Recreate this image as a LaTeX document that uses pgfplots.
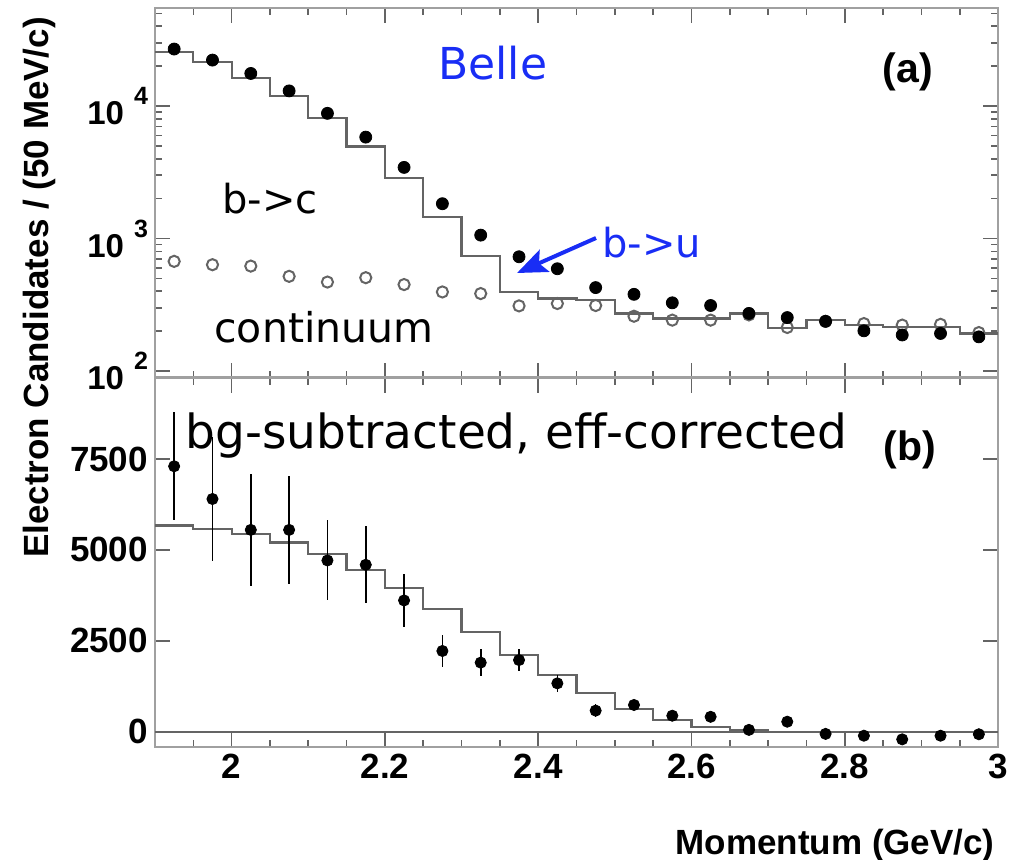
\documentclass[border=0pt]{standalone}
\usepackage{pgfplots}
\pgfplotsset{compat=1.18}
\usepackage{fontspec}
\setmainfont{Liberation Sans}
\newfontfamily\handfont{DejaVu Sans}
\usetikzlibrary{arrows.meta}

\definecolor{annblue}{RGB}{25,45,245}
\definecolor{framegray}{RGB}{160,160,160}
\definecolor{histgray}{RGB}{100,100,100}

\newcommand{\ticklab}{\fontsize{17.5}{18}\selectfont\bfseries}
\newcommand{\decade}[1]{{\fontsize{16.5}{17}\selectfont\bfseries 10}\hspace{5pt}\raisebox{10pt}{\fontsize{12.5}{12}\selectfont\bfseries #1}}

% electron momentum spectrum, 50 MeV/c bins
\pgfplotstableread{
x      y
1.90   25600
1.95   21500
2.00   16300
2.05   11900
2.10   8070
2.15   4940
2.20   2860
2.25   1446
2.30   736
2.35   395
2.40   352
2.45   342
2.50   272
2.55   249
2.60   249
2.65   272
2.70   210
2.75   242
2.80   222
2.85   215
2.90   215
2.95   192
3.00   192
}\bcmodel

\pgfplotstableread{
x      y
1.925  26900
1.975  22200
2.025  17600
2.075  13000
2.125  8800
2.175  5820
2.225  3440
2.275  1830
2.325  1060
2.375  728
2.425  591
2.475  426
2.525  379
2.575  327
2.625  312
2.675  272
2.725  253
2.775  237
2.825  201
2.875  187
2.925  192
2.975  181
}\onres

\pgfplotstableread{
x      y
1.925  672
1.975  634
2.025  619
2.075  518
2.125  469
2.175  506
2.225  449
2.275  395
2.325  384
2.375  310
2.425  323
2.475  312
2.525  259
2.575  242
2.625  242
2.675  265
2.725  213
2.775  237
2.825  228
2.875  222
2.925  225
2.975  195
}\continuum

\pgfplotstableread{
x      y
1.90   5671
1.95   5572
2.00   5443
2.05   5204
2.10   4892
2.15   4452
2.20   3948
2.25   3378
2.30   2736
2.35   2112
2.40   1561
2.45   1057
2.50   616
2.55   322
2.60   138
2.65   47
2.70   0
2.75   0
2.80   0
2.85   0
2.90   0
2.95   0
3.00   0
}\bumodel

\pgfplotstableread{
x      y      e
1.925  7300   1480
1.975  6400   1700
2.025  5550   1540
2.075  5550   1480
2.125  4710   1100
2.175  4590   1060
2.225  3610   740
2.275  2220   450
2.325  1900   370
2.375  1970   310
2.425  1330   230
2.475  580    170
2.525  735    150
2.575  440    120
2.625  410    130
2.675  50     100
2.725  275    110
2.775  -60    80
2.825  -110   70
2.875  -210   60
2.925  -110   60
2.975  -70    60
}\subtracted

\pgfplotsset{
  panel/.style={
    scale only axis,
    width=421.5pt, height=184.75pt,
    anchor=south west,
    xmin=1.9, xmax=3,
    xtick={2,2.2,2.4,2.6,2.8,3},
    minor xtick={1.95,2.05,2.1,2.15,2.25,2.3,2.35,2.45,2.5,2.55,2.65,2.7,2.75,2.85,2.9,2.95},
    tick align=inside,
    major tick length=7.5pt,
    minor tick length=3.5pt,
    axis line style={framegray, line width=1.1pt},
    tick style={histgray, line width=0.8pt},
    tick label style={font=\ticklab},
  },
}

\begin{document}
\begin{tikzpicture}
\path[use as bounding box] (0,0) rectangle (510pt,429.5pt);

% (a) raw spectrum, log scale
\begin{axis}[panel,
  at={(77.5pt,240.75pt)},
  ymode=log, ymin=89.3, ymax=54900,
  ytick={100,1000,10000},
  yticklabels={\decade{2},\decade{3},\decade{4}},
  minor ytick={200,300,400,500,600,700,800,900,2000,3000,4000,5000,6000,7000,8000,9000,20000,30000,40000,50000},
  xticklabels={},
]
\addplot[const plot, histgray, line width=1.1pt] table[x=x,y=y] {\bcmodel};
\addplot[only marks, mark=o, mark size=2.8pt, mark options={draw=histgray, line width=1pt}] table[x=x,y=y] {\continuum};
\addplot[only marks, mark=*, mark size=3pt, black] table[x=x,y=y] {\onres};
\end{axis}

% (b) background-subtracted, efficiency-corrected
\begin{axis}[panel,
  at={(77.5pt,56pt)},
  ymin=-421, ymax=9741,
  ytick={0,2500,5000,7500},
  yticklabels={0,2500,5000,7500},
  xticklabels={2,2.2,2.4,2.6,2.8,3},
]
\addplot[histgray, line width=0.8pt] coordinates {(1.9,0) (3,0)};
\addplot[const plot, histgray, line width=1.1pt] table[x=x,y=y] {\bumodel};
\addplot[only marks, mark=*, mark size=2.8pt, black,
  error bars/.cd, y dir=both, y explicit, error mark=none,
  error bar style={line width=0.8pt, black}]
  table[x=x,y=y,y error=e] {\subtracted};
\end{axis}

% labels and annotations
\node[rotate=90, font=\fontsize{17.5}{18}\selectfont\bfseries] at (19.5pt,285.75pt) {Electron Candidates / (50 MeV/c)};
\node[anchor=base east, font=\fontsize{17.5}{18}\selectfont\bfseries, inner sep=0pt] at (497.5pt,2.5pt) {Momentum (GeV/c)};

\node[font=\fontsize{20.5}{21}\selectfont\bfseries] at (454pt,393.5pt) {(a)};
\node[font=\fontsize{20.5}{21}\selectfont\bfseries] at (455pt,204.5pt) {(b)};

\node[anchor=base west, inner sep=0pt, text=annblue, font=\handfont\fontsize{22}{22}\selectfont] at (219pt,389.5pt) {Belle};
\node[anchor=base west, inner sep=0pt, font=\handfont\fontsize{20}{20}\selectfont] at (111pt,323pt) {b->c};
\node[anchor=base west, inner sep=0pt, font=\handfont\fontsize{20.5}{21}\selectfont] at (107pt,258.5pt) {continuum};
\node[anchor=base west, inner sep=0pt, text=annblue, font=\handfont\fontsize{20}{20}\selectfont] at (301pt,301pt) {b->u};
\node[anchor=base west, inner sep=0pt, font=\handfont\fontsize{23.5}{24}\selectfont] at (92.5pt,205.5pt) {bg-subtracted, eff-corrected};

\draw[annblue, line width=2pt, -{Stealth[length=15pt, width=12pt, inset=3pt]}] (298pt,310.5pt) -- (258.5pt,293pt);
\end{tikzpicture}
\end{document}
